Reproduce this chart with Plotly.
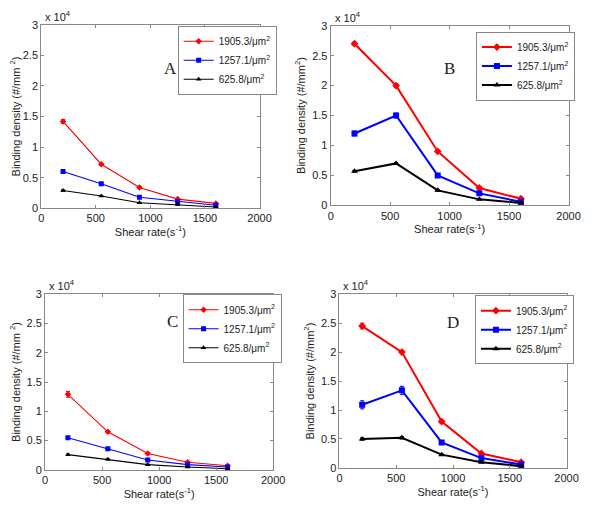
import plotly.graph_objects as go

shear = [200, 550, 900, 1250, 1600]
labels = ["1905.3/\u03bcm<sup>2</sup>", "1257.1/\u03bcm<sup>2</sup>", "625.8/\u03bcm<sup>2</sup>"]

A_red = [14200, 7200, 3400, 1500, 800]
A_blue = [6000, 4000, 1800, 1100, 500]
A_black = [2900, 2000, 900, 600, 200]
A_red_err = [300, 150, 150, 100, 80]
A_blue_err = [150, 150, 120, 80, 60]
A_black_err = [100, 80, 60, 50, 40]

B_red = [27000, 20000, 9000, 2900, 1100]
B_blue = [12000, 15000, 5000, 2000, 600]
B_black = [5700, 7000, 2500, 1000, 400]
B_red_err = [250, 300, 200, 150, 100]
B_blue_err = [400, 400, 250, 150, 100]
B_black_err = [150, 150, 120, 80, 60]

C_red = [12900, 6500, 2800, 1300, 700]
C_blue = [5500, 3600, 1700, 900, 500]
C_black = [2600, 1800, 900, 500, 200]
C_red_err = [500, 150, 150, 100, 80]
C_blue_err = [150, 150, 120, 80, 60]
C_black_err = [100, 80, 60, 50, 40]

D_red = [24500, 20000, 8000, 2500, 1000]
D_blue = [10900, 13400, 4400, 1700, 600]
D_black = [5000, 5200, 2300, 1000, 300]
D_red_err = [500, 300, 300, 150, 100]
D_blue_err = [700, 700, 300, 200, 100]
D_black_err = [200, 200, 150, 100, 60]

panels = [
    ("A", [A_red, A_blue, A_black], [A_red_err, A_blue_err, A_black_err], 1.1, 5),
    ("B", [B_red, B_blue, B_black], [B_red_err, B_blue_err, B_black_err], 2, 6),
    ("C", [C_red, C_blue, C_black], [C_red_err, C_blue_err, C_black_err], 1.1, 5),
    ("D", [D_red, D_blue, D_black], [D_red_err, D_blue_err, D_black_err], 2, 6),
]

OFF = 8  # page body margin
W, H = 600 - OFF, 513 - OFF
# plot boxes in page pixels (x0, x1, y_top, y_bottom)
boxes = [(39, 263, 19, 207), (336, 580, 20, 204), (43, 277, 295, 475), (345, 578, 295, 473)]
legpos = [(179, 20), (485, 26), (184, 295), (484, 296)]
letterpos = [(163, 52), (466, 52), (166, 323), (470, 324)]
ytitles = ["Binding density (#/mm <sup>2</sup>)", "Binding density (#/mm<sup>2</sup>)",
           "Binding density (#/mm <sup>2</sup>)", "Binding density (#/mm<sup>2</sup>)"]

colors = ["#ff0000", "#0000ff", "#000000"]
symbols = ["diamond", "square", "triangle-up"]


def px(x):
    return (x - OFF) / W


def py(y):
    return 1 - (y - OFF) / H


fig = go.Figure()
layout = dict(width=W, height=H, margin=dict(l=0, r=0, t=0, b=0),
              paper_bgcolor="white", plot_bgcolor="white",
              font=dict(family="Liberation Sans, Arial", size=11, color="#222"),
              showlegend=True, annotations=[])

for i, (name, series, errs, lw, ms) in enumerate(panels):
    idx = "" if i == 0 else str(i + 1)
    x0, x1, yt, yb = boxes[i]
    xd = [px(x0), px(x1)]
    yd = [py(yb), py(yt)]
    legname = "legend" + idx
    for j in range(3):
        fig.add_trace(go.Scatter(
            x=shear, y=series[j], mode="lines+markers", name=labels[j],
            line=dict(color=colors[j], width=lw),
            marker=dict(symbol=symbols[j], size=ms, color=colors[j]),
            error_y=dict(type="data", array=errs[j], color=colors[j], thickness=1, width=2),
            xaxis="x" + idx, yaxis="y" + idx, legend=legname,
        ))
    axstyle = dict(showline=True, linecolor="#888", linewidth=1, mirror="ticks",
                   ticks="inside", ticklen=3, tickcolor="#888", showgrid=False,
                   zeroline=False, tickfont=dict(size=11, color="#222"))
    layout["xaxis" + idx] = dict(domain=xd, range=[0, 2000], tickvals=[0, 500, 1000, 1500, 2000],
                                 anchor="y" + idx,
                                 title=dict(text="Shear rate(s<sup>-1</sup>)", standoff=2,
                                            font=dict(size=11)), **axstyle)
    layout["yaxis" + idx] = dict(domain=yd, range=[0, 30000],
                                 tickvals=[0, 5000, 10000, 15000, 20000, 25000, 30000],
                                 ticktext=["0", "0.5", "1", "1.5", "2", "2.5", "3"],
                                 anchor="x" + idx,
                                 title=dict(text=ytitles[i], standoff=4, font=dict(size=11)),
                                 **axstyle)
    lx, ly = legpos[i]
    layout[legname] = dict(x=px(lx), y=py(ly), xanchor="left", yanchor="top",
                           bgcolor="white", bordercolor="#888", borderwidth=1,
                           font=dict(size=10, color="#222"), itemwidth=30,
                           tracegroupgap=0)
    ax_, ay_ = letterpos[i]
    layout["annotations"].append(dict(x=px(ax_), y=py(ay_), xref="paper", yref="paper",
                                      text=name, showarrow=False,
                                      font=dict(family="Liberation Serif, Times New Roman", size=17, color="#222")))
    layout["annotations"].append(dict(x=px(x0 + 2), y=py(yt), xref="paper", yref="paper",
                                      xanchor="left", yanchor="bottom", text="x 10<sup>4</sup>",
                                      showarrow=False, font=dict(size=11, color="#222")))

fig.update_layout(**layout)
fig.write_html("out.html")
